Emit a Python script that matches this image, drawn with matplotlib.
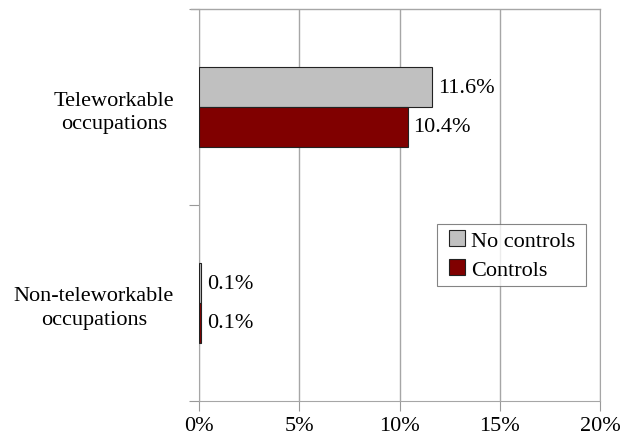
import matplotlib
matplotlib.use('Agg')
import matplotlib.pyplot as plt
from matplotlib.patches import Rectangle
from matplotlib.container import BarContainer
from matplotlib.legend_handler import HandlerPatch, update_from_first_child
from matplotlib.ticker import FuncFormatter

categories = ['Non-teleworkable\noccupations', 'Teleworkable\noccupations']
no_controls = [0.1, 11.6]
controls = [0.1, 10.4]

plt.rcParams['font.family'] = ['Liberation Serif', 'DejaVu Serif']
plt.rcParams['font.size'] = 16

fig = plt.figure(figsize=(6.21, 4.39), dpi=100)
ax = fig.add_axes([0.3205, 0.0843, 0.6457, 0.8929])

h = 0.204
pos = list(range(len(categories)))
ax.barh([p + h / 2 for p in pos], no_controls, height=h, color='#c0c0c0',
        edgecolor='#222222', linewidth=0.8, label='No controls', zorder=3)
ax.barh([p - h / 2 for p in pos], controls, height=h, color='#800000',
        edgecolor='#222222', linewidth=0.8, label='Controls', zorder=3)

# etiquetas de valores
for i, p in enumerate(pos):
    ax.text(no_controls[i] + 0.3, p + h / 2, f'{no_controls[i]:.1f}%',
            va='center', ha='left')
    ax.text(controls[i] + 0.3, p - h / 2, f'{controls[i]:.1f}%',
            va='center', ha='left')

ax.set_xlim(0, 20)
ax.set_ylim(-0.5, 1.5)
ax.set_xticks([0, 5, 10, 15, 20])
ax.xaxis.set_major_formatter(FuncFormatter(lambda v, _: f'{v:.0f}%'))
ax.set_yticks([-0.5, 0.5, 1.5], minor=False)
ax.set_yticklabels(['', '', ''])
ax.set_yticks(pos, minor=True)
ax.set_yticklabels(categories, minor=True, ha='right', multialignment='center',
                   linespacing=1.3)
ax.tick_params(axis='y', which='minor', length=0, pad=18)
ax.tick_params(axis='y', which='major', length=7, color='#999999')
ax.tick_params(axis='x', length=7, color='#999999', pad=4)

ax.grid(axis='x', color='#a6a6a6', linewidth=1, zorder=0)
for s in ['left', 'bottom', 'top', 'right']:
    ax.spines[s].set_color('#a6a6a6')
ax.spines['top'].set_visible(False)
ax.axhline(1.5, xmin=-0.02, xmax=1, color='#a6a6a6', linewidth=1,
           clip_on=False)


# cuadrito de la leyenda pegado a la derecha del espacio del handle
def square_patch(legend, orig_handle, xdescent, ydescent, width, height, fontsize):
    s = 12
    return Rectangle((width - s - xdescent, (height - s) / 2 - ydescent), s, s)


leg = ax.legend(loc='lower left', bbox_to_anchor=(0.593, 0.293, 0.372, 0.159),
                mode='expand', fancybox=False, edgecolor='#666666',
                handlelength=1.0, handleheight=0.7, handletextpad=0.25,
                borderaxespad=0, borderpad=0.28, labelspacing=0.38,
                handler_map={BarContainer: HandlerPatch(
                    patch_func=square_patch,
                    update_func=update_from_first_child)})
leg.get_frame().set_linewidth(0.8)

fig.savefig('out.png', dpi=100)
